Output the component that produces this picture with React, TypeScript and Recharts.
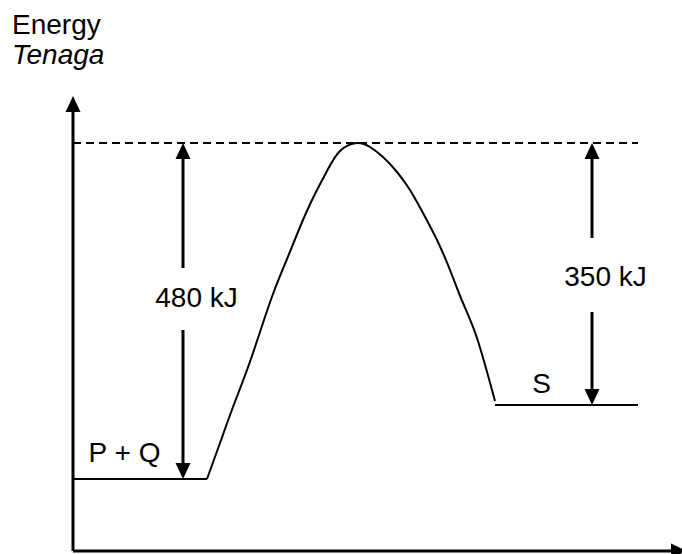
import { ComposedChart, Line, Scatter, XAxis, YAxis, ReferenceLine, ReferenceDot } from 'recharts';

// reaction path (x = progress, e = energy, arbitrary units, not to scale)
const reactantLevel = [
  { x: 0, e: 72 },
  { x: 134, e: 72 },
];
const barrierCurve = [
  { x: 134, e: 72 },
  { x: 147, e: 108 },
  { x: 160, e: 144 },
  { x: 174, e: 181 },
  { x: 187, e: 219 },
  { x: 200, e: 257 },
  { x: 214, e: 292 },
  { x: 227, e: 324 },
  { x: 240, e: 353 },
  { x: 254, e: 380 },
  { x: 267, e: 400 },
  { x: 284, e: 408 },
  { x: 297, e: 404 },
  { x: 310, e: 394 },
  { x: 324, e: 379 },
  { x: 337, e: 361 },
  { x: 350, e: 338 },
  { x: 364, e: 311 },
  { x: 377, e: 281 },
  { x: 390, e: 248 },
  { x: 404, e: 213 },
  { x: 422, e: 150 },
];
const productLevel = [
  { x: 422, e: 146 },
  { x: 565, e: 146 },
];
const peakEnergy = 408;
const xMax = 609;
const yMax = 455;

// energy difference arrows, with a gap in the shaft for the label
const activationArrow = { x: 110, from: 72, to: 408, gapLow: 221, gapHigh: 283 };
const releaseArrow = { x: 519, from: 146, to: 408, gapLow: 239, gapHigh: 313 };

const arrowHeads = [
  { x: 0, e: yMax, dir: 'up' },
  { x: xMax, e: 0, dir: 'right' },
  { x: activationArrow.x, e: activationArrow.to, dir: 'up' },
  { x: activationArrow.x, e: activationArrow.from, dir: 'down' },
  { x: releaseArrow.x, e: releaseArrow.to, dir: 'up' },
  { x: releaseArrow.x, e: releaseArrow.from, dir: 'down' },
];

const labels = [
  { x: 123.5, e: 254, text: '480 kJ' },
  { x: 532.5, e: 275, text: '350 kJ' },
  { x: 51.5, e: 99, text: 'P + Q' },
  { x: 468.5, e: 167.5, text: 'S' },
];

const font = '"Liberation Sans", Arial, sans-serif';

function ArrowHead(props: any) {
  const { cx, cy, payload } = props;
  const w = 7.5;
  const h = 16;
  let pts = '';
  if (payload.dir === 'up') pts = `${cx},${cy} ${cx - w},${cy + h} ${cx + w},${cy + h}`;
  else if (payload.dir === 'down') pts = `${cx},${cy} ${cx - w},${cy - h} ${cx + w},${cy - h}`;
  else pts = `${cx + 5},${cy} ${cx - 11},${cy - w} ${cx - 11},${cy + w}`;
  return <polygon points={pts} fill="#000" />;
}

export default function App() {
  return (
    <div style={{ position: 'absolute', left: 0, top: 0, width: 682, height: 554, background: '#fff', fontFamily: font }}>
      <div style={{ position: 'absolute', left: 12, top: 10, fontSize: 28, lineHeight: '30px', color: '#000' }}>
        Energy
        <br />
        <i>Tenaga</i>
      </div>
      <ComposedChart width={682} height={554} margin={{ top: 96, right: 0, bottom: 3, left: 73 }}>
        <XAxis type="number" dataKey="x" domain={[0, xMax]} hide />
        <YAxis type="number" dataKey="e" domain={[0, yMax]} hide />

        {/* axes */}
        <ReferenceLine segment={[{ x: 0, y: 0 }, { x: 0, y: yMax - 6 }]} stroke="#000" strokeWidth={3} />
        <ReferenceLine segment={[{ x: 0, y: 0 }, { x: xMax - 6, y: 0 }]} stroke="#000" strokeWidth={3} />

        {/* transition state level */}
        <ReferenceLine
          segment={[{ x: 0, y: peakEnergy }, { x: 565, y: peakEnergy }]}
          stroke="#000"
          strokeWidth={2}
          strokeDasharray="8 5"
        />

        {/* arrows */}
        {[activationArrow, releaseArrow].map((a) => (
          <ReferenceLine key={`u${a.x}`} segment={[{ x: a.x, y: a.gapHigh }, { x: a.x, y: a.to - 8 }]} stroke="#000" strokeWidth={3} />
        ))}
        {[activationArrow, releaseArrow].map((a) => (
          <ReferenceLine key={`d${a.x}`} segment={[{ x: a.x, y: a.from + 8 }, { x: a.x, y: a.gapLow }]} stroke="#000" strokeWidth={3} />
        ))}

        <Line data={reactantLevel} dataKey="e" type="linear" stroke="#000" strokeWidth={2} dot={false} isAnimationActive={false} />
        <Line data={barrierCurve} dataKey="e" type="natural" stroke="#000" strokeWidth={2} dot={false} isAnimationActive={false} />
        <Line data={productLevel} dataKey="e" type="linear" stroke="#000" strokeWidth={2} dot={false} isAnimationActive={false} />

        <Scatter data={arrowHeads} dataKey="e" shape={ArrowHead} isAnimationActive={false} />

        {labels.map((l) => (
          <ReferenceDot
            key={l.text}
            x={l.x}
            y={l.e}
            r={0}
            stroke="none"
            fill="none"
            label={{ value: l.text, position: 'center', fill: '#000', fontSize: 28, fontFamily: font }}
          />
        ))}
      </ComposedChart>
    </div>
  );
}
